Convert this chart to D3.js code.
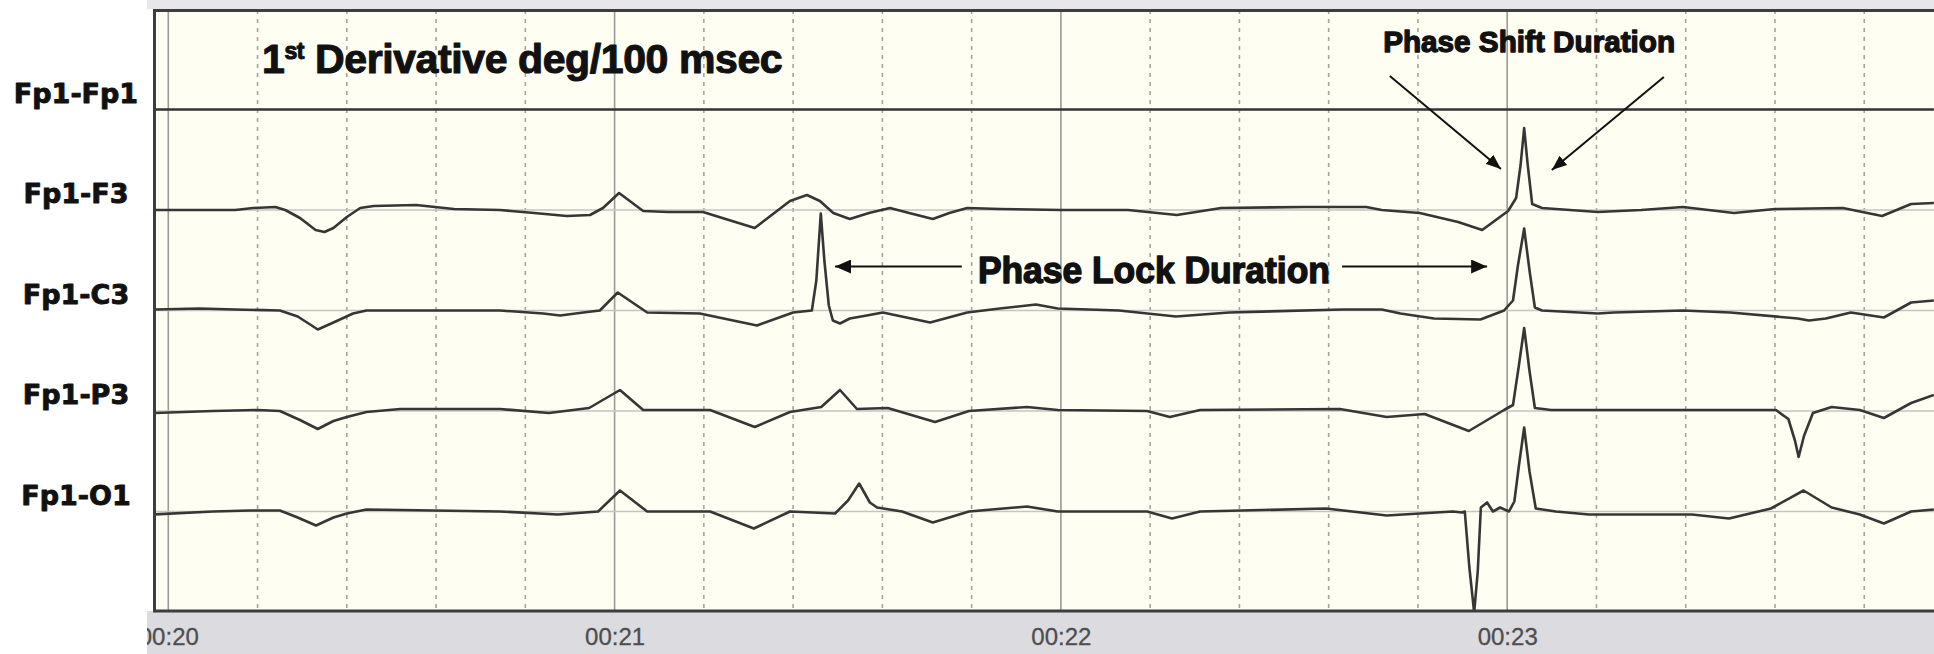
<!DOCTYPE html>
<html>
<head>
<meta charset="utf-8">
<script src="https://cdn.jsdelivr.net/npm/d3@7"></script>
<style>
  body { margin: 0; background: #ffffff; }
  svg { display: block; }
</style>
</head>
<body>
<svg id="chart" width="1934" height="654"></svg>
<script>
// Montage channels, top to bottom
const channels = ["Fp1-Fp1", "Fp1-F3", "Fp1-C3", "Fp1-P3", "Fp1-O1"];

// Time axis (seconds) and its labels
const tickSeconds = [20, 21, 22, 23];
const tickLabels = ["00:20", "00:21", "00:22", "00:23"];

// First derivative of phase per channel: [time (s), value]
const fp1Fp1 = [[19.966, 0], [23.956, 0]];

const fp1F3 = [
  [19.966,0],[20.150,0],[20.190,2],[20.240,3],[20.262,0],[20.295,-8],[20.330,-20],[20.350,-22],
  [20.370,-18],[20.400,-7],[20.430,2],[20.460,4],[20.555,5],[20.640,1],[20.743,0],[20.820,-3],
  [20.893,-6],[20.945,-5],[20.974,2],[21.010,17],[21.064,-1],[21.120,-2],[21.198,-2],[21.314,-18],
  [21.393,9],[21.431,15],[21.460,9],[21.490,-3],[21.527,-9],[21.570,-3],[21.617,2],[21.660,-3],
  [21.713,-9],[21.750,-3],[21.790,2],[21.863,1],[22.000,0],[22.150,0],[22.260,-5],[22.359,2],
  [22.547,3],[22.684,3],[22.719,0],[22.804,-3],[22.890,-12],[22.944,-20],[23.002,-1],[23.020,12],
  [23.030,45],[23.038,82],[23.046,45],[23.056,6],[23.078,2],[23.203,-2],[23.300,0],[23.394,3],
  [23.508,-3],[23.600,1],[23.752,2],[23.840,-6],[23.905,6],[23.956,7]
];

const fp1C3 = [
  [19.966,1],[20.070,2],[20.150,1],[20.250,0],[20.290,-6],[20.335,-19],[20.370,-12],[20.414,-3],
  [20.444,0],[20.600,0],[20.743,0],[20.840,-3],[20.878,-5],[20.930,-2],[20.967,0],[21.007,18],
  [21.073,-2],[21.191,-3],[21.319,-15],[21.400,-2],[21.442,0],[21.452,30],[21.462,97],[21.470,50],
  [21.480,5],[21.489,-10],[21.505,-13],[21.527,-8],[21.565,-5],[21.601,-2],[21.707,-12],[21.790,-2],
  [21.863,2],[21.944,6],[21.993,2],[22.130,0],[22.258,-6],[22.377,-2],[22.632,1],[22.719,1],
  [22.761,-3],[22.836,-8],[22.940,-9],[22.993,0],[23.013,10],[23.024,45],[23.038,82],[23.050,40],
  [23.062,3],[23.078,0],[23.203,-3],[23.239,-2],[23.394,0],[23.500,-2],[23.651,-8],[23.676,-10],
  [23.714,-8],[23.770,-2],[23.844,-7],[23.905,8],[23.956,10]
];

const fp1P3 = [
  [19.966,-2],[20.100,0],[20.200,1],[20.250,0],[20.295,-9],[20.335,-18],[20.370,-10],[20.400,-6],
  [20.444,-1],[20.520,2],[20.743,2],[20.853,-2],[20.943,3],[21.012,21],[21.064,1],[21.214,1],
  [21.314,-16],[21.393,-1],[21.463,4],[21.505,21],[21.543,2],[21.612,3],[21.718,-11],[21.794,0],
  [21.924,4],[21.993,1],[22.193,0],[22.244,-6],[22.312,1],[22.625,2],[22.730,-6],[22.815,-3],
  [22.914,-20],[22.993,1],[23.013,6],[23.026,45],[23.038,83],[23.050,40],[23.062,3],[23.098,1],
  [23.602,1],[23.630,-8],[23.645,-30],[23.653,-46],[23.665,-25],[23.685,-2],[23.727,4],[23.790,1],
  [23.844,-7],[23.905,8],[23.956,16]
];

const fp1O1 = [
  [19.966,-3],[20.100,0],[20.183,1],[20.250,1],[20.290,-6],[20.331,-14],[20.370,-6],[20.400,-2],
  [20.444,2],[20.743,0],[20.873,-3],[20.963,0],[21.012,21],[21.073,0],[21.214,0],[21.312,-17],
  [21.393,0],[21.494,-2],[21.523,11],[21.548,28],[21.572,9],[21.588,4],[21.644,0],[21.713,-11],
  [21.794,0],[21.924,5],[21.993,0],[22.193,0],[22.249,-7],[22.312,0],[22.594,3],[22.730,-4],
  [22.878,0],[22.899,-1],[22.905,0],[22.915,-55],[22.926,-101],[22.934,-60],[22.941,4],[22.955,9],
  [22.968,0],[22.984,4],[23.004,0],[23.016,10],[23.026,45],[23.038,84],[23.050,40],[23.064,3],
  [23.109,0],[23.183,-3],[23.414,-3],[23.497,-7],[23.591,3],[23.664,21],[23.727,4],[23.790,-3],
  [23.844,-12],[23.905,0],[23.956,2]
];

const traces = [fp1Fp1, fp1F3, fp1C3, fp1P3, fp1O1];

// ---- layout ----
const W = 1934, H = 654;
const plot = { left: 153, top: 10, right: W, bottom: 611 };

const svg = d3.select("#chart");

const x = d3.scaleLinear().domain([20, 23]).range([168.3, 1507.2]);
const row = d3.scalePoint().domain(channels).range([109.5, 511.5]);
const amp = d3.scaleLinear().domain([-100, 100]).range([100, -100]);

const defs = svg.append("defs");
defs.append("clipPath").attr("id", "plotClip")
  .append("rect")
  .attr("x", plot.left + 2).attr("y", plot.top + 1)
  .attr("width", plot.right - plot.left - 2).attr("height", plot.bottom - plot.top);
defs.append("clipPath").attr("id", "axisClip")
  .append("rect")
  .attr("x", 147).attr("y", plot.bottom)
  .attr("width", W - 147).attr("height", H - plot.bottom);

function arrowMarker(id, len, half) {
  defs.append("marker")
    .attr("id", id)
    .attr("markerUnits", "userSpaceOnUse")
    .attr("markerWidth", len).attr("markerHeight", half * 2)
    .attr("refX", len).attr("refY", half)
    .attr("orient", "auto")
    .append("path")
    .attr("d", `M0,0 L${len},${half} L0,${half * 2} Z`)
    .attr("fill", "#111");
}
arrowMarker("headLock", 16, 7);
arrowMarker("headShift", 15, 6);

// window strips above and below the trace area
svg.append("rect").attr("x", 147).attr("y", 0)
  .attr("width", W - 147).attr("height", 9).attr("fill", "#e7e7ea");
svg.append("rect").attr("x", 147).attr("y", plot.bottom)
  .attr("width", W - 147).attr("height", H - plot.bottom).attr("fill", "#dcdce0");

// trace area background
svg.append("rect")
  .attr("x", plot.left).attr("y", plot.top)
  .attr("width", plot.right - plot.left).attr("height", plot.bottom - plot.top)
  .attr("fill", "#fefef2");

// 200 ms dashed grid
const minor = d3.range(1, 20).map(i => 20 + i * 0.2)
  .filter(t => Math.abs(t - Math.round(t)) > 1e-6 && x(t) < W);
svg.append("g").selectAll("line").data(minor).join("line")
  .attr("x1", d => x(d)).attr("x2", d => x(d))
  .attr("y1", plot.top).attr("y2", plot.bottom)
  .attr("stroke", "#a4a4a0").attr("stroke-width", 1.6)
  .attr("stroke-dasharray", "4,5");

// one-second grid
svg.append("g").selectAll("line").data(tickSeconds).join("line")
  .attr("x1", d => x(d)).attr("x2", d => x(d))
  .attr("y1", plot.top).attr("y2", plot.bottom)
  .attr("stroke", "#9a9a96").attr("stroke-width", 1.6);

// channel zero lines
svg.append("g").selectAll("line").data(channels).join("line")
  .attr("x1", plot.left).attr("x2", plot.right)
  .attr("y1", d => row(d)).attr("y2", d => row(d))
  .attr("stroke", "#c4c4c0").attr("stroke-width", 1.5);

// traces
const gTraces = svg.append("g").attr("clip-path", "url(#plotClip)");
channels.forEach((ch, i) => {
  const y0 = row(ch);
  const line = d3.line()
    .x(d => x(d[0]))
    .y(d => y0 + amp(d[1]));
  gTraces.append("path")
    .datum(traces[i])
    .attr("d", line)
    .attr("fill", "none")
    .attr("stroke", "#363636")
    .attr("stroke-width", 2.6)
    .attr("stroke-linejoin", "round");
});

// frame
const frame = svg.append("g").attr("stroke", "#3d3d3d").attr("stroke-width", 3);
frame.append("line").attr("x1", plot.left).attr("x2", plot.right)
  .attr("y1", plot.top + 0.5).attr("y2", plot.top + 0.5);
frame.append("line").attr("x1", plot.left + 1.5).attr("x2", plot.left + 1.5)
  .attr("y1", plot.top).attr("y2", plot.bottom + 1);
frame.append("line").attr("x1", plot.left).attr("x2", plot.right)
  .attr("y1", plot.bottom).attr("y2", plot.bottom);

// time axis labels (clipped at the window's left edge)
const axis = d3.axisBottom(x)
  .tickValues(tickSeconds)
  .tickFormat((d, i) => tickLabels[i])
  .tickSize(0).tickPadding(0);
const gAxisWrap = svg.append("g").attr("clip-path", "url(#axisClip)");
const gAxis = gAxisWrap.append("g")
  .attr("transform", `translate(0,${plot.bottom})`)
  .call(axis);
gAxis.select(".domain").remove();
gAxis.selectAll("text")
  .attr("y", 34).attr("dy", 0)
  .attr("font-family", "'Liberation Sans', Arial, sans-serif")
  .attr("font-size", 24)
  .attr("fill", "#4e4e4e")
  .attr("stroke", "#4e4e4e").attr("stroke-width", 0.3);

// heavy label text helper
function heavy(sel, w) {
  return sel.attr("fill", "#111").attr("stroke", "#111")
    .attr("stroke-width", w).attr("stroke-linejoin", "round");
}

// channel names
heavy(svg.append("g").selectAll("text").data(channels).join("text")
  .attr("x", 76).attr("y", d => row(d) - 7)
  .attr("text-anchor", "middle")
  .attr("font-family", "'DejaVu Sans', Verdana, sans-serif")
  .attr("font-weight", "bold")
  .attr("font-size", 27)
  .text(d => d), 0.9);

// title
const title = heavy(svg.append("text")
  .attr("x", 262).attr("y", 73)
  .attr("font-family", "'Liberation Sans', Arial, sans-serif")
  .attr("font-weight", "bold")
  .attr("font-size", 41)
  .attr("letter-spacing", -0.4), 1.1);
title.append("tspan").text("1");
title.append("tspan").attr("font-size", 23).attr("dy", -14).text("st");
title.append("tspan").attr("dy", 14).text(" Derivative deg/100 msec");

// annotation: phase lock interval between C3 spikes
const lockY = row("Fp1-C3") + amp(44);
heavy(svg.append("text")
  .attr("x", x(21.814)).attr("y", lockY + 16)
  .attr("font-family", "'Liberation Sans', Arial, sans-serif")
  .attr("font-weight", "bold")
  .attr("font-size", 36)
  .attr("textLength", 352).attr("lengthAdjust", "spacingAndGlyphs")
  .text("Phase Lock Duration"), 1.4);
svg.append("line")
  .attr("x1", x(21.778)).attr("x2", x(21.494))
  .attr("y1", lockY).attr("y2", lockY)
  .attr("stroke", "#111").attr("stroke-width", 2)
  .attr("marker-end", "url(#headLock)");
svg.append("line")
  .attr("x1", x(22.630)).attr("x2", x(22.955))
  .attr("y1", lockY).attr("y2", lockY)
  .attr("stroke", "#111").attr("stroke-width", 2)
  .attr("marker-end", "url(#headLock)");

// annotation: phase shift around the 00:23 spike
const f3 = row("Fp1-F3");
heavy(svg.append("text")
  .attr("x", x(22.722)).attr("y", 52)
  .attr("font-family", "'Liberation Sans', Arial, sans-serif")
  .attr("font-weight", "bold")
  .attr("font-size", 29)
  .attr("textLength", 292).attr("lengthAdjust", "spacingAndGlyphs")
  .text("Phase Shift Duration"), 1.3);
svg.append("line")
  .attr("x1", x(22.737)).attr("y1", f3 + amp(134))
  .attr("x2", x(22.986)).attr("y2", f3 + amp(41))
  .attr("stroke", "#111").attr("stroke-width", 2)
  .attr("marker-end", "url(#headShift)");
svg.append("line")
  .attr("x1", x(23.351)).attr("y1", f3 + amp(133))
  .attr("x2", x(23.100)).attr("y2", f3 + amp(40))
  .attr("stroke", "#111").attr("stroke-width", 2)
  .attr("marker-end", "url(#headShift)");
</script>
</body>
</html>
